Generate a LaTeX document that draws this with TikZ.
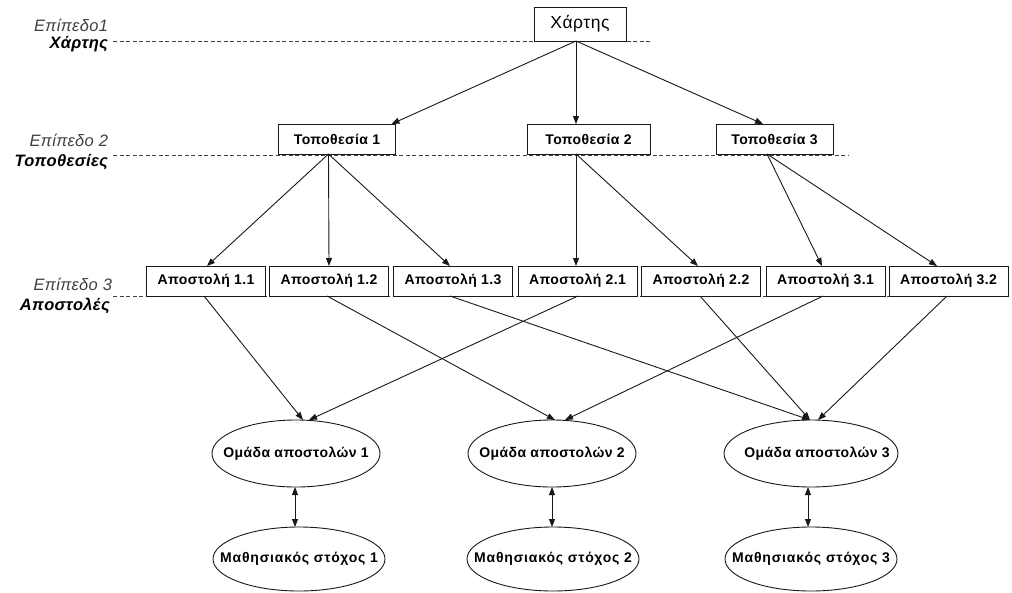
\documentclass[tikz,border=0pt]{standalone}
\usepackage{fontspec}
\setmainfont{Liberation Sans}
\usetikzlibrary{arrows.meta,shapes.geometric,calc}
\newfontfamily\wide[LetterSpace=3]{Liberation Sans}
\newfontfamily\wider[LetterSpace=6]{Liberation Sans}
\newfontfamily\widel[LetterSpace=2]{Liberation Sans}
\begin{document}
\begin{tikzpicture}[x=1pt,y=-1pt,
  every node/.style={inner sep=0pt,outer sep=0pt},
  link/.style={draw=black!90,line width=0.9pt,-{Triangle[length=8pt,width=6pt]}},
  both/.style={draw=black!90,line width=0.9pt,{Triangle[length=8pt,width=6pt]}-{Triangle[length=8pt,width=6pt]}},
  lvl/.style={draw=black!75,line width=0.8pt,dash pattern=on 4pt off 2.5pt},
  box/.style={draw=black!90,line width=0.9pt,fill=white,minimum height=30pt,font=\wide\bfseries\fontsize{14}{16}\selectfont},
  abox/.style={box,minimum width=119pt},
  tbox/.style={box,minimum width=118pt},
  oval/.style={draw=black!90,line width=0.9pt,ellipse,minimum width=168pt,minimum height=67pt,font=\wide\bfseries\fontsize{14}{16}\selectfont},
  goal/.style={oval,minimum width=172pt,minimum height=64pt,font=\wider\bfseries\fontsize{14}{16}\selectfont},
  lab/.style={anchor=east,text=black!75,font=\widel\itshape\fontsize{16.5}{18}\selectfont},
  labb/.style={anchor=east,text=black,font=\widel\bfseries\itshape\fontsize{16.5}{18}\selectfont}
]
\useasboundingbox (0,0) rectangle (1012,592);
% level labels and dashed lines
\node[lab] (l1a) at (108,25) {Επίπεδο1};
\node[labb] (l1b) at (108,44) {Χάρτης};
\node[lab] (l2a) at (108,140) {Επίπεδο 2};
\node[labb] (l2b) at (108,162) {Τοποθεσίες};
\node[lab] (l3a) at (112,284) {Επίπεδο 3};
\node[labb] (l3b) at (110,306) {Αποστολές};
\coordinate (d1a) at (113,41); \coordinate (d1b) at (650,41);
\coordinate (d2a) at (113,155.5); \coordinate (d2b) at (848,155.5);
\coordinate (d3a) at (113,296.5); \coordinate (d3b) at (1010,296.5);
\draw[lvl] (d1a) -- (d1b);
\draw[lvl] (d2a) -- (d2b);
\draw[lvl] (d3a) -- (d3b);
% nodes
\node[box,minimum width=92pt,minimum height=34pt,font=\wide\fontsize{17.5}{19}\selectfont] (map) at (580,24) {Χάρτης};
\node[tbox,minimum width=117pt] (t1) at (337,139) {Τοποθεσία 1};
\node[tbox,minimum width=123pt] (t2) at (588.5,139) {Τοποθεσία 2};
\node[tbox,minimum width=117pt] (t3) at (774.5,139) {Τοποθεσία 3};
\node[abox] (a11) at (206,281) {Αποστολή 1.1};
\node[abox] (a12) at (329,281) {Αποστολή 1.2};
\node[abox] (a13) at (453,281) {Αποστολή 1.3};
\node[abox] (a21) at (577.5,281) {Αποστολή 2.1};
\node[abox] (a22) at (701,281) {Αποστολή 2.2};
\node[abox] (a31) at (825.5,281) {Αποστολή 3.1};
\node[abox] (a32) at (948.5,281) {Αποστολή 3.2};
\node[oval] (o1) at (296,453.5) {\makebox[0pt]{Ομάδα αποστολών 1}};
\node[oval] (o2) at (552,453.5) {\makebox[0pt]{Ομάδα αποστολών 2}};
\node[oval,minimum width=174pt] (o3) at (811,453.5) {\makebox[0pt]{\hspace*{12pt}Ομάδα αποστολών 3}};
\node[goal] (m1) at (299,559) {\makebox[0pt]{Μαθησιακός στόχος 1}};
\node[goal] (m2) at (553,559) {\makebox[0pt]{Μαθησιακός στόχος 2}};
\node[goal] (m3) at (811,559) {\makebox[0pt]{Μαθησιακός στόχος 3}};
% connectors level 1 -> 2
\draw[link] ([xshift=-4pt]map.south) -- ([xshift=-4pt]t1.north east);
\draw[link] ([xshift=-4pt]map.south) -- ([xshift=-12.5pt]t2.north);
\draw[link] ([xshift=-4pt]map.south) -- ([xshift=-11.5pt]t3.north);
% level 2 -> 3
\draw[link] ([xshift=-8.5pt]t1.south) -- ([xshift=1pt]a11.north);
\draw[link] ([xshift=-8.5pt]t1.south) -- (a12.north);
\draw[link] ([xshift=-8.5pt]t1.south) -- ([xshift=-3pt]a13.north);
\draw[link] ([xshift=-12.5pt]t2.south) -- ([xshift=-1.5pt]a21.north);
\draw[link] ([xshift=-12.5pt]t2.south) -- ([xshift=-3pt]a22.north);
\draw[link] ([xshift=-7.5pt]t3.south) -- ([xshift=-3.5pt]a31.north);
\draw[link] ([xshift=-7.5pt]t3.south) -- ([xshift=-11.5pt]a32.north);
% level 3 -> groups
\draw[link] ([xshift=-2pt]a11.south) -- ([xshift=7pt]o1.north);
\draw[link] ([xshift=0.5pt]a21.south) -- ([xshift=13pt]o1.north);
\draw[link] ([xshift=-2pt]a12.south) -- ([xshift=3pt]o2.north);
\draw[link] ([xshift=-2.5pt]a31.south) -- ([xshift=13pt]o2.north);
\draw[link] ([xshift=-3pt]a13.south) -- ([xshift=-1pt]o3.north);
\draw[link] ([xshift=-1pt]a22.south) -- ([xshift=-1pt]o3.north);
\draw[link] ([xshift=-1.5pt]a32.south) -- ([xshift=7pt]o3.north);
% groups <-> goals
\draw[both] ([xshift=-1pt]o1.south) -- ([xshift=-4pt]m1.north);
\draw[both] (o2.south) -- ([xshift=-1pt]m2.north);
\draw[both] ([xshift=-3pt]o3.south) -- ([xshift=-3pt]m3.north);
\end{tikzpicture}
\end{document}
